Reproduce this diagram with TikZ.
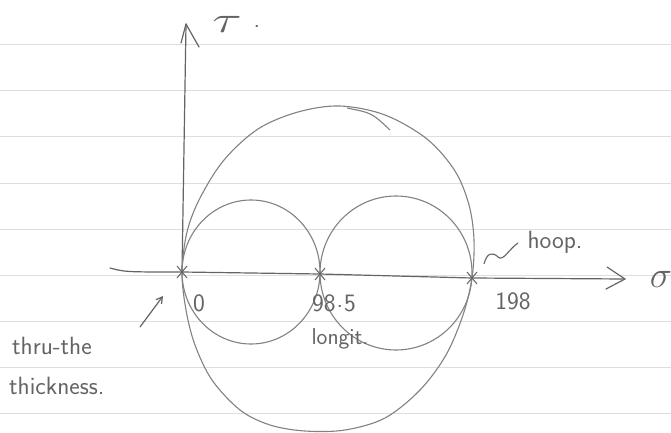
\documentclass[tikz,border=0pt]{standalone}
\usepackage{fontspec}
\usetikzlibrary{arrows.meta}
\definecolor{pencil}{RGB}{100,100,100}
\definecolor{pencillight}{RGB}{130,130,130}
\definecolor{ruled}{RGB}{222,222,222}
\tikzset{
  axisline/.style={draw=pencil, line width=1.2pt, line cap=round},
  circ/.style={draw=pencillight, line width=1.1pt},
  chev/.style={draw=pencil, line width=1.2pt, line cap=round, line join=round},
  lbl/.style={text=pencil, font=\sffamily\fontsize{25}{25}\selectfont, inner sep=0pt},
  crossmark/.style={draw=pencil, line width=1pt},
  ruledline/.style={draw=ruled, line width=0.8pt}
}
\begin{document}
\begin{tikzpicture}[x=1pt,y=-1pt]
\useasboundingbox (0,0) rectangle (671,433);
\fill[white] (0,0) rectangle (671,433);
% ruled paper lines
\foreach \yy in {44,90,136,183,229,275,321,367,413}
  \draw[ruledline] (0,\yy) -- (671,\yy);

% key points
\coordinate (O) at (182,272);
\coordinate (A) at (320,274);
\coordinate (B) at (472,278);
\coordinate (Xl) at (110,268);
\coordinate (Xr) at (625,279);
\coordinate (Yt) at (186,24);

% axes
\draw[axisline] (Xl) .. controls (125,272) .. (O) -- (A) -- (B) -- (Xr);
\draw[chev] (607,267) -- (Xr) -- (606,289);
\draw[axisline] (O) -- (Yt);
\draw[chev] (181,43) -- (Yt) -- (199,47);

% large circle
\draw[circ] plot[smooth cycle, tension=0.55] coordinates {
  (182,272) (187,232) (200,198) (224,160) (258,129) (298,112) (340,106)
  (385,115) (427,139) (455,171) (469,205) (474,240) (472,278) (463,315)
  (446,355) (420,390) (385,418) (345,430) (305,431) (270,425) (240,410)
  (212,380) (195,345) (186,310)};
\draw[circ] (347,108) .. controls (372,113) .. (390,130);

% small circles
\draw[circ] (251,272) ellipse [x radius=69, y radius=72];
\draw[circ] (396,273) ellipse [x radius=76, y radius=77];

% cross marks
\foreach \p in {O,A,B}{
  \draw[crossmark] ([shift={(-5,-6)}]\p) -- ([shift={(5,6)}]\p);
  \draw[crossmark] ([shift={(5,-6)}]\p) -- ([shift={(-5,6)}]\p);
}

% labels
\node[lbl] (tau) at (227,24) {\scalebox{2.2}[1.5]{$\tau$}};
\node[lbl] (taudot) at (257,27) {.};
\node[lbl] (sigma) at (661,279) {\scalebox{1.5}{$\sigma$}};
\node[lbl] (l0) at (199,303) {0};
\node[lbl] (l985) at (334,303) {98\kern1pt\raisebox{0.3ex}{.}\kern1pt5};
\node[lbl] (l198) at (513,301) {198};
\node[lbl, font=\sffamily\fontsize{23}{23}\selectfont] (longit) at (340,339) {longit.};
\node[lbl] (hoop) at (555,242) {hoop.};
\node[lbl, anchor=west] (thru) at (12,346) {thru-the};
\node[lbl, anchor=west] (thick) at (9,386) {thickness.};

% pointers
\coordinate (hs) at (484,264);
\draw[circ, draw=pencil] (hs) .. controls (487,252) and (493,252) .. (498,257)
  .. controls (503,262) and (509,249) .. (518,243);
\coordinate (ts) at (140,327);
\coordinate (te) at (163,296);
\draw[chev, -{Straight Barb[length=6pt,width=7pt]}] (ts) -- (te);
\end{tikzpicture}
\end{document}
